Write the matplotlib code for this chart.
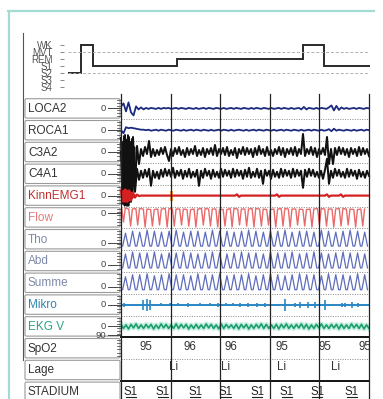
import numpy as np
import matplotlib.pyplot as plt
from matplotlib import font_manager
from matplotlib.patches import FancyBboxPatch

W, H = 383, 399

# ---------------- hypnogram ----------------
stage_names = ['WK', 'MVT', 'REM', 'S1', 'S2', 'S3', 'S4']
hyp_stage = ['S2', 'WK', 'S1', 'REM', 'WK', 'S1']
hyp_len = [3, 3, 20, 30, 5, 11]          # epochs

# ---------------- channel list ----------------
channels = ['LOCA2', 'ROCA1', 'C3A2', 'C4A1', 'KinnEMG1', 'Flow', 'Tho', 'Abd',
            'Summe', 'Mikro', 'EKG V', 'SpO2', 'Lage', 'STADIUM']
label_colors = ['#333333', '#333333', '#333333', '#333333', '#c03030', '#e07a7a',
                '#7f89a8', '#7f89a8', '#7f89a8', '#2f86b0', '#2aa386', '#333333',
                '#333333', '#333333']
zero_frac = [0.5, 0.5, 0.5, 0.5, 0.5, 0.3, 0.68, 0.68, 0.68, 0.5, 0.5, -0.1]
zero_text = ['0'] * 11 + ['90']
grid_t = [0, 30, 60, 90, 120, 150]       # seconds

# EOG (100 samples over 150 s)
loca2 = [2, 5, -3, 6, -4, -7, 2, -1, 1, -1,
         0.5, -0.5, 0.5, 0, -0.5, 0.5, -0.5, 0.5, 0, 0.5,
         -0.5, 0, 0.5, -0.5, 0.5, 0, -0.5, 0.5, 0, -0.5,
         0.5, -0.5, 0, 0.5, -0.5, 0.5, 0, -0.5, 0.5, 0,
         -0.5, 0.5, -0.5, 0, 0.5, -0.5, 0.5, 0, -0.5, 0.5,
         0, -0.5, 0.5, -0.5, 0.5, 0, -0.5, 0.5, 0, -0.5,
         0.5, -0.5, 0, 0.5, -0.5, 0.5, 0, -0.5, 0.5, -0.5,
         0, 0.5, -1, 1.5, -1, 0.5, 0, -0.5, 0.5, -0.5,
         0.5, 0, -0.5, 1, 3, -2, 2.5, -1.5, 1, -0.5,
         0.5, -0.5, 0, 0.5, -0.5, 0.5, 0, -0.5, 0.5, 0]
roca1 = [0, -3, 3, 2, 2.5, 2, 1.5, 1, 0.5, 0.5,
         0, 0.5, -0.5, 0, 0.5, -0.5, 0.5, 0, -0.5, 0.5,
         0, -0.5, 0.5, 0, -0.5, 0.5, -0.5, 0, 0.5, -0.5,
         0.5, 0, -0.5, 0.5, 0, -0.5, 0.5, -0.5, 0, 0.5,
         -0.5, 0.5, 0, -0.5, 0.5, -0.5, 0, 0.5, 0, -0.5,
         0.5, -0.5, 0, 0.5, -0.5, 0.5, 0, -0.5, 0.5, 0,
         -0.5, 0.5, -0.5, 0, 0.5, -0.5, 0.5, 0, -0.5, 0.5,
         0, -0.5, 0.5, -0.5, 0, 0.5, -0.5, 0.5, 0, -0.5,
         0.5, -0.5, 0, 1, -1, 1.5, -0.5, 0.5, 0, -0.5,
         0.5, 0, -0.5, 0.5, -0.5, 0, 0.5, -0.5, 0.5, 0]

# EEG (125 samples over 150 s)
c3a2 = [14, -46, 17, -50, 12, -48, 15, -35, 6, -12,
        3, -4, 5, -2, 11, -5, 3, -4, 2, -3,
        4, -2, 5, -3, -9, 3, -4, 4, -2, 5,
        -3, 2, -5, 4, -3, 3, -2, 6, -4, 2,
        -3, 4, -5, 3, -2, 4, -3, 7, -4, 3,
        -2, 4, -3, 5, -4, 2, -3, 4, -6, 3,
        -2, 5, -3, 4, -2, 3, -5, 4, -3, 6,
        -2, 3, -4, 5, -3, 2, -4, 3, -2, 5,
        -3, 4, -5, 3, -2, 4, -3, 5, -4, 3,
        -2, 18, -4, 3, -2, 5, -3, 4, -5, 3,
        -2, 4, -3, 15, -12, 3, -12, 4, -3, 5,
        -2, 4, -3, 3, -5, 4, -2, 3, -4, 5,
        -3, 4, -2, 3, -4]
c4a1 = [22, -30, 25, -32, 20, -28, 12, -18, 5, -6,
        3, -4, 4, -3, 5, -12, 3, -4, 2, -5,
        4, -3, 5, -2, 4, -3, 6, -4, 3, -2,
        4, -5, 3, -3, 5, -4, 2, -3, 4, -12,
        3, -4, 5, -2, 3, -5, 4, -3, 2, -4,
        5, -3, 4, -2, 3, -4, 5, -3, 4, -2,
        3, -5, 4, -3, 6, -4, 2, -3, 5, -4,
        3, -10, 4, -2, 3, -5, 4, -3, 2, -4,
        5, -3, 4, -2, 3, -4, 5, -3, 4, -2,
        3, -14, 4, -3, 5, -2, 4, -3, 2, -4,
        3, -5, 4, 15, -10, 3, -4, 5, -2, 4,
        -3, 2, -4, 5, -3, 4, -2, 3, -5, 4,
        -3, 2, -4, 3, -2]
emg = ([5, -6, 6, -6, 5, -5, 3, -2, 1, -0.5] + [0] * 48 + [1.2, -1.2]
       + [0] * 18 + [1.2, -1.2] + [0] * 23 + [1.2, -1.2] + [0] * 5
       + [1.2, -1.2] + [0] * 13)

# movement artefact at the start, finer sampling (20 samples, 1.0-8.5 s)
c3a2_art = [10, -40, 16, -48, 14, -50, 12, -46, 17, -44,
            15, -48, 10, -42, 13, -38, 8, -30, 5, -15]
c4a1_art = [25, -30, 28, -32, 24, -31, 27, -30, 22, -32,
            26, -28, 20, -25, 15, -20, 10, -12, 5, -6]
emg_art = [4, -5, 5, -6, 6, -5, 5, -6, 4, -5,
           5, -4, 3, -3, 2, -2, 1, -1, 0.5, 0]

arousal_t = [29.5]
arousal_dur = [2.0]

# respiration: one entry per breath
breath_t = [1.5, 5.8, 10.1, 14.6, 19.0, 23.3, 27.9, 32.2, 36.6, 41.0, 45.3,
            49.8, 54.1, 58.5, 62.9, 67.2, 71.7, 76.0, 80.4, 84.9, 89.2, 93.6,
            98.0, 102.3, 106.8, 111.1, 115.5, 120.0, 124.3, 128.7, 133.1,
            137.4, 141.9, 146.2]
flow_dip = [-9, -13, -12, -14, -13, -12, -14, -13, -12, -13, -14, -12, -13,
            -14, -13, -14, -12, -13, -14, -13, -12, -14, -13, -14, -12, -13,
            -14, -12, -13, -14, -13, -12, -14, -13]
flow_top = [5, 4, 4.5, 4, 3.5, 4, 4.5, 4, 4, 3.5, 4, 4.5, 4, 4, 3.5, 4.5, 4,
            4, 4.5, 4, 3.5, 4, 4.5, 4, 4, 3.5, 4, 4.5, 4, 4, 4.5, 4, 3.5, 4]
tho_peak = [10, 12, 11, 13, 12, 11, 12, 13, 11, 12, 12, 11, 13, 12, 12, 11,
            12, 13, 12, 11, 12, 12, 13, 11, 12, 12, 11, 13, 12, 11, 12, 13, 12, 11]
abd_peak = [11, 13, 12, 12, 13, 11, 12, 12, 13, 12, 11, 12, 13, 12, 11, 12,
            13, 12, 12, 11, 13, 12, 12, 13, 11, 12, 13, 12, 11, 12, 13, 12, 12, 11]
sum_peak = [10, 12, 12, 13, 11, 12, 13, 12, 12, 11, 13, 12, 12, 13, 11, 12,
            12, 13, 11, 12, 13, 12, 11, 12, 13, 12, 12, 11, 13, 12, 12, 11, 13, 12]
effort_base = -3

# snoring microphone events
mikro_t = [1.8, 13.3, 15.7, 17.5, 24.2, 29.6, 34.5, 40.5, 47.8, 53.8, 58.7,
           63.5, 67.8, 72.0, 76.8, 82.3, 87.1, 99.2, 105.3, 108.3, 113.1,
           117.4, 123.4, 133.7, 135.5, 139.7, 143.4]
mikro_amp = [2, 5, 6, 5, 1.5, 1.5, 1.5, 2, 1.5, 1.5, 2, 1.5, 1.5, 2, 2, 2, 2,
             6, 2, 3, 3, 3, 5, 2, 2, 3, 2]

# ECG (100 samples over 150 s)
ekg = [2, -2, 1.5, -2.5, 2, -1.5, 2.5, -2, 1.5, -2,
       2, -1.5, 2, -2.5, 1.5, -2, 2.5, -1.5, 2, -2,
       1.5, -2, 2.5, -2, 2, -1.5, 2, -2.5, 1.5, -2,
       2, -2, 1.5, -2, 2.5, -1.5, 2, -2, 1.5, -2.5,
       2.5, -2, 2, -1.5, 1.5, -2, 2, -2.5, 2, -1.5,
       2, -2.5, 1.5, -2, 2, -1.5, 2.5, -2, 2, -2,
       1.5, -2, 2, -2.5, 2, -1.5, 2.5, -2, 1.5, -2,
       2, -1.5, 2.5, -2, 2, -2.5, 1.5, -2, 2, -1.5,
       2.5, -2, 1.5, -2, 2, -1.5, 2, -2.5, 2, -2,
       1.5, -2, 2.5, -1.5, 2, -2, 2, -2.5, 1.5, -2]

# SpO2 values, body position, sleep stage scoring
spo2_t = [15.1, 41.7, 66.5, 97.4, 123.4, 147.6]
spo2_v = [95, 96, 96, 95, 95, 95]
lage_t = [31.5, 63.5, 97.4, 129.5]
lage_v = ['Li', 'Li', 'Li', 'Li']
stad_t = [6.0, 25.4, 44.8, 63.5, 82.3, 100.4, 118.6, 139.7]
stad_v = ['S1'] * 8

# ---------------- layout helpers ----------------
names = {f.name for f in font_manager.fontManager.ttflist}
LAB_FONT = 'Liberation Sans'
HYP_FONT = 'Liberation Sans Narrow' if 'Liberation Sans Narrow' in names else LAB_FONT

ROW0, ROW_H = 97.5, 21.8
SIG_X0, SIG_X1 = 121, 369


def rect(x0, y0, x1, y1):
    return [x0 / W, 1 - y1 / H, (x1 - x0) / W, (y1 - y0) / H]


fig = plt.figure(figsize=(W / 100, H / 100), dpi=100)

fr = fig.add_axes([0, 0, 1, 1])
fr.set_xlim(0, W)
fr.set_ylim(H, 0)
fr.axis('off')

# window frame
teal = '#a3dcd3'
fr.plot([8, 374], [10.5, 10.5], color=teal, lw=1.6)
fr.plot([9, 9], [10.5, H], color=teal, lw=1.6)
fr.plot([23, 23], [33, 360], color='#555555', lw=0.8)

# channel label boxes, scale marks
for i, name in enumerate(channels):
    top = ROW0 + i * ROW_H
    fr.add_patch(FancyBboxPatch((25, top + 1.2), 95, ROW_H - 2.4,
                                boxstyle='round,pad=0,rounding_size=1.5',
                                ec='#9a9a9a', fc='white', lw=0.8))
    fr.text(28, top + ROW_H / 2 + 0.5, name, va='center', ha='left',
            fontsize=8.5, color=label_colors[i], family=LAB_FONT)
    if i < len(zero_frac):
        zy = top + zero_frac[i] * ROW_H
        fr.text(106, zy, zero_text[i], va='center', ha='right', fontsize=6.8,
                color='#444444', family=LAB_FONT)
        fr.plot([107.5, 120], [zy, zy], color='#444444', lw=0.7)
        for ty in np.arange(top + 2.5, top + ROW_H - 1, 3.2):
            fr.plot([116.5, 120], [ty, ty], color='#555555', lw=0.6)

# row separators in the trace area
for i in range(1, 13):
    y = ROW0 + i * ROW_H
    if i == 11:
        fr.plot([SIG_X0, SIG_X1], [y, y], color='#111111', lw=1.4)
    else:
        fr.plot([SIG_X0, SIG_X1], [y, y], color='#888888', lw=0.7,
                ls=(0, (1, 1.5)))
fr.plot([SIG_X0, SIG_X1], [ROW0 + 13 * ROW_H] * 2, color='#111111', lw=1.4)

# ---------------- hypnogram ----------------
hx = fig.add_axes(rect(64, 41, 370, 91))
edges = np.concatenate([[0], np.cumsum(hyp_len)])
levels = [stage_names.index(s) for s in hyp_stage]
for lv in (1, 4):
    hx.axhline(lv, xmin=0.013, color='#b0b0b0', lw=0.7, ls=(0, (3, 2)))
hx.stairs(levels, edges, baseline=None, color='#2a2a2a', lw=1.4)
hx.set_xlim(-1, edges[-1])
hx.set_ylim(6.571, -0.571)
hx.set_yticks(range(len(stage_names)))
hx.set_yticklabels(stage_names, family=HYP_FONT, fontsize=7.0, color='#555555')
hx.tick_params(axis='y', length=3, width=0.7, color='#888888', pad=5)
hx.set_xticks([])
for s in hx.spines.values():
    s.set_visible(False)
hx.patch.set_alpha(0)


# ---------------- channel traces ----------------
def row_axes(i):
    top = ROW0 + i * ROW_H
    ax = fig.add_axes(rect(SIG_X0, top, SIG_X1, top + ROW_H))
    ax.set_xlim(0, 150)
    f = zero_frac[i] if i < len(zero_frac) else 0.5
    ax.set_ylim(-(1 - f) * ROW_H, f * ROW_H)
    ax.axis('off')
    ax.patch.set_alpha(0)
    return ax


def dip_shape(t, low, high, half):
    xs, ys = [], []
    for ti, lo, hi in zip(t, low, high):
        xs += [ti - half, ti, ti + half]
        ys += [hi, lo, hi]
    return xs, ys


t100 = np.linspace(0, 150, 100)
t125 = np.linspace(0, 150, 125)
t_art = np.linspace(1.0, 8.5, 20)

ax = row_axes(0)
ax.plot(t100, loca2, color='#1b2a80', lw=1.3)
ax = row_axes(1)
ax.plot(t100, roca1, color='#1b2a80', lw=1.3)
ax = row_axes(2)
ax.plot(t125, c3a2, color='#111111', lw=1.45, clip_on=False)
ax.plot(t_art, c3a2_art, color='#111111', lw=1.2, clip_on=False)
ax = row_axes(3)
ax.plot(t125, c4a1, color='#111111', lw=1.45, clip_on=False)
ax.plot(t_art, c4a1_art, color='#111111', lw=1.2, clip_on=False)
ax = row_axes(4)
ax.plot(t125, emg, color='#d42020', lw=1.6, clip_on=False)
ax.plot(t_art, emg_art, color='#d42020', lw=1.6, clip_on=False)
for t0, d in zip(arousal_t, arousal_dur):
    ax.axvspan(t0, t0 + d, ymin=0.25, ymax=0.72, color='#f4a24a', lw=0)

ax = row_axes(5)
xs, ys = dip_shape(breath_t, flow_dip, flow_top, 1.1)
ax.plot(xs, ys, color='#e86a6a', lw=1.0)
for i, peaks in zip((6, 7, 8), (tho_peak, abd_peak, sum_peak)):
    ax = row_axes(i)
    xs, ys = dip_shape([t + 1.2 for t in breath_t], peaks,
                       [effort_base] * len(peaks), 1.7)
    ax.plot(xs, ys, color='#5f6dbb', lw=0.9)

ax = row_axes(9)
ax.axhline(0, color='#2a86c4', lw=1.4)
ax.vlines(mikro_t, [-a for a in mikro_amp], mikro_amp, color='#2a86c4', lw=1.2)
ax = row_axes(10)
ax.plot(t100, ekg, color='#c4ecdf', lw=3.5)
ax.plot(t100, ekg, color='#1a9e6e', lw=1.2)

ax = row_axes(11)
ax.set_ylim(0, 1)
for t, v in zip(spo2_t, spo2_v):
    ax.text(t, 0.55, str(v), ha='center', va='center', fontsize=8.3,
            family=LAB_FONT, color='#333333', clip_on=True)
ax = row_axes(12)
ax.set_ylim(0, 1)
for t, v in zip(lage_t, lage_v):
    ax.text(t, 0.64, v, ha='center', va='center', fontsize=8.3,
            family=LAB_FONT, color='#333333')
ax = row_axes(13)
ax.set_ylim(0, 1)
for t, v in zip(stad_t, stad_v):
    ax.text(t, 0.47, v, ha='center', va='center', fontsize=8.3,
            family=LAB_FONT, color='#222222')
    ax.plot([t - 3, t + 3], [0.27, 0.27], color='#222222', lw=0.8)

# 30 s epoch grid over the whole trace area
gx = fig.add_axes(rect(SIG_X0, 94, SIG_X1, H))
gx.set_xlim(0, 150)
gx.axis('off')
gx.patch.set_alpha(0)
for t in grid_t:
    gx.axvline(t, color='#222222', lw=0.9, clip_on=False)

fig.savefig('out.png', dpi=100)
